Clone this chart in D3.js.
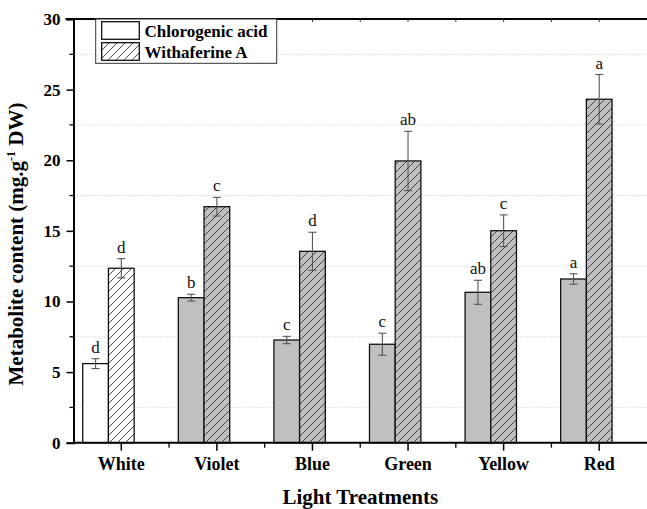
<!DOCTYPE html>
<html><head><meta charset="utf-8">
<script src="https://cdn.jsdelivr.net/npm/d3@7"></script>
<style>body{margin:0;background:#fff}svg{display:block}</style>
</head><body>
<svg id="c" width="647" height="509"></svg>
<script>
const categories = ["White","Violet","Blue","Green","Yellow","Red"];
const chlorogenic = [5.6, 10.27, 7.27, 6.97, 10.65, 11.59];
const chlorogenicErr = [0.35, 0.24, 0.26, 0.78, 0.85, 0.37];
const chlorogenicLetters = ["d","b","c","c","ab","a"];
const withaferin = [12.35, 16.71, 13.55, 19.95, 15.01, 24.32];
const withaferinErr = [0.68, 0.66, 1.35, 2.1, 1.12, 1.75];
const withaferinLetters = ["d","c","d","ab","c","a"];
const yTicks = [0,5,10,15,20,25,30];
const seriesNames = ["Chlorogenic acid","Withaferine A"];

const svg = d3.select("#c");
const L = 73.5, R = 647, T = 19, B = 442.7;
const x = d3.scaleBand().domain(categories).range([L, R]).paddingInner(0).paddingOuter(0);
const y = d3.scaleLinear().domain([0,30]).range([B, T]);
const bw = x.bandwidth();
const w = 25.7;
const serif = "'Liberation Serif','Times New Roman',serif";

const defs = svg.append("defs");
function hatch(id, bg){
  const s = 8;
  const p = defs.append("pattern").attr("id", id).attr("patternUnits","userSpaceOnUse")
    .attr("width",s).attr("height",s);
  p.append("rect").attr("width",s).attr("height",s).attr("fill",bg);
  p.append("path").attr("d",`M-1,1 l2,-2 M0,${s} l${s},-${s} M${s-1},${s+1} l2,-2`)
    .attr("stroke","#222").attr("stroke-width",0.8);
}
hatch("hw","#fff");
hatch("hg","#c0c0c0");

// gridlines at minor positions
const gridVals = d3.range(2.5, 30, 5);
svg.append("g").selectAll("line").data(gridVals).join("line")
  .attr("x1", L).attr("x2", R).attr("y1", d=>y(d)).attr("y2", d=>y(d))
  .attr("stroke","#d0d0d0").attr("stroke-width",0.8).attr("stroke-dasharray","1.5,1.5");

const center = c => x(c) + bw/2;

// bars
const g = svg.append("g");
categories.forEach((c,i)=>{
  const cx = center(c);
  const x1 = cx - 1.5*w, x2 = cx - 0.5*w;
  g.append("rect").attr("x", x1).attr("y", y(chlorogenic[i])).attr("width", w)
    .attr("height", y(0)-y(chlorogenic[i]))
    .attr("fill", i===0 ? "#fff" : "#c0c0c0").attr("stroke","#111").attr("stroke-width",1.3);
  g.append("rect").attr("x", x2).attr("y", y(withaferin[i])).attr("width", w)
    .attr("height", y(0)-y(withaferin[i]))
    .attr("fill", i===0 ? "url(#hw)" : "url(#hg)").attr("stroke","#111").attr("stroke-width",1.3);
  [[x1+w/2, chlorogenic[i], chlorogenicErr[i], chlorogenicLetters[i]],
   [x2+w/2, withaferin[i], withaferinErr[i], withaferinLetters[i]]].forEach(([bx,v,e,lab])=>{
    const eg = g.append("g").attr("stroke","#555").attr("stroke-width",1.1);
    eg.append("line").attr("x1",bx).attr("x2",bx).attr("y1",y(v+e)).attr("y2",y(v-e));
    eg.append("line").attr("x1",bx-4).attr("x2",bx+4).attr("y1",y(v+e)).attr("y2",y(v+e));
    eg.append("line").attr("x1",bx-4).attr("x2",bx+4).attr("y1",y(v-e)).attr("y2",y(v-e));
    g.append("text").attr("x",bx).attr("y",y(v+e)-6).attr("text-anchor","middle")
      .attr("font-family",serif).attr("font-size",17).attr("fill","#111").text(lab);
  });
});

// y axis
const ya = svg.append("g").attr("transform",`translate(${L},0)`)
  .call(d3.axisLeft(y).tickValues(yTicks).tickSize(7).tickPadding(6).tickFormat(d3.format("d")));
ya.select(".domain").attr("stroke-width",2).attr("stroke","#000");
ya.selectAll(".tick line").attr("stroke-width",1.5);
ya.selectAll("text").attr("font-family",serif).attr("font-weight","bold").attr("font-size",17).attr("fill","#000");
// minor y ticks (outward)
svg.append("g").selectAll("line").data(gridVals).join("line")
  .attr("x1",L).attr("x2",L-4).attr("y1",d=>y(d)).attr("y2",d=>y(d)).attr("stroke","#000").attr("stroke-width",1.3);

// x axis
const xa = svg.append("g").attr("transform",`translate(0,${B})`)
  .call(d3.axisBottom(x).tickSize(8).tickPadding(7));
xa.select(".domain").attr("stroke-width",2).attr("stroke","#000").attr("d",`M${L},0H${R}`);
xa.selectAll(".tick line").attr("stroke-width",1.5);
xa.selectAll("text").attr("font-family",serif).attr("font-weight","bold").attr("font-size",18).attr("fill","#000");
// minor x ticks at band edges
svg.append("g").selectAll("line").data(categories.slice(1)).join("line")
  .attr("x1",d=>x(d)).attr("x2",d=>x(d)).attr("y1",B).attr("y2",B+5).attr("stroke","#000").attr("stroke-width",1.3);

// top axis line and small ticks
svg.append("line").attr("x1",L-8).attr("x2",R).attr("y1",T).attr("y2",T).attr("stroke","#000").attr("stroke-width",2);
const topTicks = categories.map(c=>center(c)).concat(categories.slice(1).map(c=>x(c)));
svg.append("g").selectAll("line").data(topTicks).join("line")
  .attr("x1",d=>d).attr("x2",d=>d).attr("y1",T).attr("y2",T+3).attr("stroke","#333").attr("stroke-width",1);

// axis titles
svg.append("text").attr("x",(L+R)/2).attr("y",504).attr("text-anchor","middle")
  .attr("font-family",serif).attr("font-weight","bold").attr("font-size",21).text("Light Treatments");
const yt = svg.append("text").attr("transform",`translate(23,244) rotate(-90)`).attr("text-anchor","middle")
  .attr("font-family",serif).attr("font-weight","bold").attr("font-size",21);
yt.append("tspan").text("Metabolite content (mg.g");
yt.append("tspan").attr("dy",-8).attr("font-size",12).text("-1");
yt.append("tspan").attr("dy",8).text(" DW)");

// legend
const lg = svg.append("g");
lg.append("rect").attr("x",95.7).attr("y",19).attr("width",181).attr("height",44.3)
  .attr("fill","#fff").attr("stroke","#333").attr("stroke-width",1);
const sw = [["#fff",21.7],["url(#hw)",42.7]];
sw.forEach(([f,yy],i)=>{
  lg.append("rect").attr("x",101.7).attr("y",yy).attr("width",37.6).attr("height",17.6)
    .attr("fill",f).attr("stroke","#111").attr("stroke-width",1.3);
  lg.append("text").attr("x",144.5).attr("y",yy+15).attr("font-family",serif).attr("font-weight","bold")
    .attr("font-size",17).text(seriesNames[i]);
});
</script>
</body></html>
